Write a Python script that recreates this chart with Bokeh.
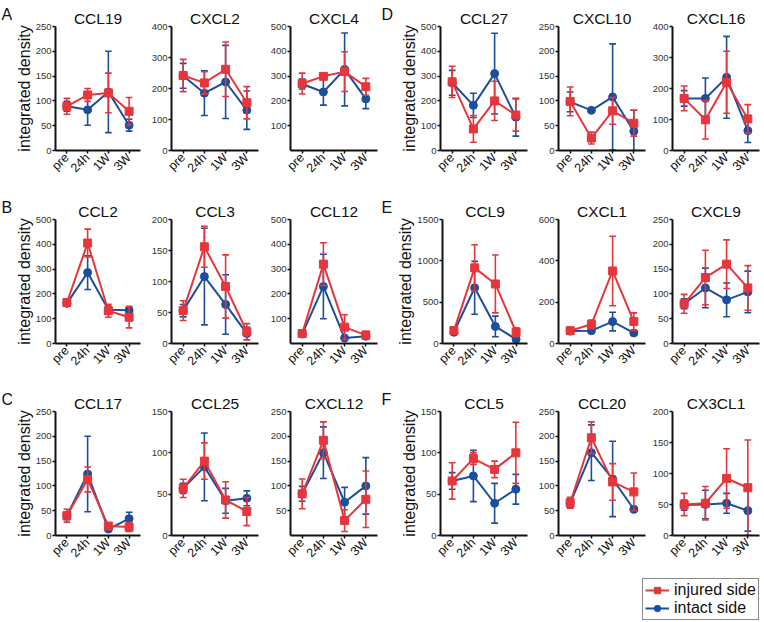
import math
from bokeh.plotting import figure
from bokeh.models import Range1d, FixedTicker, Legend, LegendItem, ColumnDataSource, Spacer
from bokeh.layouts import row, column
from bokeh.embed import file_html
from bokeh.resources import INLINE

TIME_POINTS = ["pre", "24h", "1W", "3W"]
X_IDX = [0, 1, 2, 3]

# ---- Group A ----
CCL19_max, CCL19_ticks = 250, [0, 50, 100, 150, 200, 250]
CCL19_injured, CCL19_injured_err = [89, 112, 116, 79], [16, 13, 40, 28]
CCL19_intact, CCL19_intact_err = [89, 82, 118, 51], [10, 31, 82, 12]

CXCL2_max, CXCL2_ticks = 400, [0, 100, 200, 300, 400]
CXCL2_injured, CXCL2_injured_err = [242, 218, 262, 154], [52, 36, 88, 52]
CXCL2_intact, CXCL2_intact_err = [241, 185, 221, 130], [40, 72, 118, 62]

CXCL4_max, CXCL4_ticks = 500, [100, 200, 300, 400, 500]
CXCL4_injured, CXCL4_injured_err = [270, 299, 318, 257], [42, 12, 80, 34]
CXCL4_intact, CXCL4_intact_err = [268, 236, 327, 208], [20, 53, 147, 39]

# ---- Group B ----
CCL2_max, CCL2_ticks = 500, [0, 100, 200, 300, 400, 500]
CCL2_injured, CCL2_injured_err = [165, 405, 132, 106], [15, 56, 26, 43]
CCL2_intact, CCL2_intact_err = [162, 286, 136, 134], [12, 68, 15, 15]

CCL3_max, CCL3_ticks = 200, [0, 50, 100, 150, 200]
CCL3_injured, CCL3_injured_err = [53, 156, 92, 19], [16, 33, 51, 13]
CCL3_intact, CCL3_intact_err = [53, 108, 63, 16], [10, 78, 48, 10]

CCL12_max, CCL12_ticks = 500, [100, 200, 300, 400, 500]
CCL12_injured, CCL12_injured_err = [40, 320, 66, 34], [8, 86, 50, 15]
CCL12_intact, CCL12_intact_err = [38, 230, 22, 29], [6, 130, 8, 12]

# ---- Group C ----
CCL17_max, CCL17_ticks = 250, [0, 50, 100, 150, 200, 250]
CCL17_injured, CCL17_injured_err = [40, 113, 19, 17], [13, 25, 4, 9]
CCL17_intact, CCL17_intact_err = [40, 124, 13, 34], [8, 76, 3, 13]

CCL25_max, CCL25_ticks = 150, [0, 50, 100, 150]
CCL25_injured, CCL25_injured_err = [57, 90, 43, 29], [11, 22, 22, 17]
CCL25_intact, CCL25_intact_err = [57, 83, 42, 45], [6, 41, 15, 9]

CXCL12_max, CXCL12_ticks = 250, [50, 100, 150, 200, 250]
CXCL12_injured, CXCL12_injured_err = [84, 192, 30, 73], [30, 37, 22, 57]
CXCL12_intact, CXCL12_intact_err = [84, 167, 67, 100], [15, 52, 30, 57]

# ---- Group D ----
CCL27_max, CCL27_ticks = 500, [0, 100, 200, 300, 400, 500]
CCL27_injured, CCL27_injured_err = [277, 87, 200, 143], [63, 54, 79, 65]
CCL27_intact, CCL27_intact_err = [273, 182, 310, 134], [50, 49, 163, 76]

CXCL10_max, CXCL10_ticks = 250, [0, 50, 100, 150, 200, 250]
CXCL10_injured, CXCL10_injured_err = [99, 25, 80, 55], [29, 12, 27, 26]
CXCL10_intact, CXCL10_intact_err = [98, 81, 108, 39], [20, 3, 107, 42]

CXCL16_max, CXCL16_ticks = 400, [0, 100, 200, 300, 400]
CXCL16_injured, CXCL16_injured_err = [168, 99, 220, 102], [40, 62, 100, 46]
CXCL16_intact, CXCL16_intact_err = [168, 168, 236, 64], [25, 66, 132, 38]

# ---- Group E ----
CCL9_max, CCL9_ticks = 1500, [0, 500, 1000, 1500]
CCL9_injured, CCL9_injured_err = [156, 915, 720, 136], [30, 280, 350, 55]
CCL9_intact, CCL9_intact_err = [136, 674, 206, 51], [20, 320, 125, 20]

CXCL1_max, CXCL1_ticks = 600, [0, 200, 400, 600]
CXCL1_injured, CXCL1_injured_err = [62, 93, 351, 106], [5, 21, 168, 42]
CXCL1_intact, CXCL1_intact_err = [60, 62, 106, 51], [5, 12, 45, 10]

CXCL9_max, CXCL9_ticks = 250, [0, 50, 100, 150, 200, 250]
CXCL9_injured, CXCL9_injured_err = [80, 133, 160, 112], [19, 55, 49, 45]
CXCL9_intact, CXCL9_intact_err = [80, 112, 88, 104], [10, 40, 34, 42]

# ---- Group F ----
CCL5_max, CCL5_ticks = 150, [0, 50, 100, 150]
CCL5_injured, CCL5_injured_err = [66, 93, 80, 100], [22, 7, 10, 37]
CCL5_intact, CCL5_intact_err = [66, 72, 39, 56], [10, 31, 24, 18]

CCL20_max, CCL20_ticks = 250, [0, 50, 100, 150, 200, 250]
CCL20_injured, CCL20_injured_err = [66, 197, 108, 88], [11, 32, 37, 38]
CCL20_intact, CCL20_intact_err = [65, 167, 114, 53], [8, 56, 76, 5]

CX3CL1_max, CX3CL1_ticks = 200, [0, 50, 100, 150, 200]
CX3CL1_injured, CX3CL1_injured_err = [50, 52, 92, 77], [18, 27, 48, 77]
CX3CL1_intact, CX3CL1_intact_err = [49, 50, 52, 40], [8, 23, 16, 33]

PANEL_LETTERS = ["A", "B", "C", "D", "E", "F"]
SERIES_LABELS = ["injured side", "intact side"]

RED = "#e5363c"
BLUE = "#1b4f9b"
FONT = "Liberation Sans"
FRAME_W, FRAME_H, TOP = 87, 128, 22
ROW_H = [193, 192, 192]
LEFTS = [41, 26, 27, 46, 26, 24]
RIGHTS = [5, 5, 3, 5, 3, 3]
LETTER_W = [12, 14]


def letter_fig(letter, h, w):
    p = figure(width=w, height=h, output_backend="svg", toolbar_location=None,
               x_axis_location=None, y_axis_location=None,
               min_border_left=0, min_border_right=0, min_border_top=0, min_border_bottom=0)
    p.outline_line_color = None
    p.grid.visible = False
    p.title.text = letter
    p.title.align = "left"
    p.title.offset = 1
    p.title.standoff = 7
    p.title.text_font = FONT
    p.title.text_font_size = "16px"
    p.title.text_font_style = "normal"
    p.title.text_color = "#111111"
    return p


def style_series(p, vals, errs, color, marker):
    lo = [max(0, v - e) for v, e in zip(vals, errs)]
    hi = [v + e for v, e in zip(vals, errs)]
    src = ColumnDataSource(dict(x=X_IDX, y=vals, lo=lo, hi=hi,
                                cl=[x - 0.16 for x in X_IDX], cr=[x + 0.16 for x in X_IDX]))
    p.segment(x0="x", y0="lo", x1="x", y1="hi", source=src, line_color=color, line_width=1.6)
    p.segment(x0="cl", y0="hi", x1="cr", y1="hi", source=src, line_color=color, line_width=1.6)
    p.segment(x0="cl", y0="lo", x1="cr", y1="lo", source=src, line_color=color, line_width=1.6)
    ln = p.line("x", "y", source=src, line_color=color, line_width=2)
    sc = p.scatter("x", "y", source=src, marker=marker, size=8, fill_color=color, line_color=color)
    return [ln, sc]


def make_panel(col, rix, title, ymax, yticks, inj, inj_err, ctl, ctl_err, ylabel=False):
    left, right = LEFTS[col], RIGHTS[col]
    bottom = ROW_H[rix] - TOP - FRAME_H
    p = figure(width=left + FRAME_W + right, height=ROW_H[rix],
               x_range=Range1d(-0.55, 3.55), y_range=Range1d(0, ymax),
               output_backend="svg", toolbar_location=None,
               min_border_left=left, min_border_right=right,
               min_border_top=TOP, min_border_bottom=bottom)
    p.outline_line_color = None
    p.grid.visible = False
    p.title.text = title
    p.title.align = "center"
    p.title.text_font = FONT
    p.title.text_font_size = "15.5px"
    p.title.text_font_style = "normal"
    p.title.text_color = "#111111"
    p.title.standoff = 0
    p.title.offset = 0

    for ax in (p.xaxis[0], p.yaxis[0]):
        ax.axis_line_width = 2
        ax.axis_line_color = "#111111"
        ax.major_tick_line_width = 1.5
        ax.major_tick_line_color = "#111111"
        ax.major_tick_out = 3
        ax.major_tick_in = 0
        ax.minor_tick_line_color = None
        ax.major_label_text_font = FONT

    xa = p.xaxis[0]
    xa.ticker = FixedTicker(ticks=X_IDX)
    xa.major_label_overrides = {i: t for i, t in zip(X_IDX, TIME_POINTS)}
    xa.major_label_orientation = math.pi / 4
    xa.major_label_text_font_size = "12.5px"
    xa.major_label_text_color = "#111111"
    xa.major_label_standoff = 2

    ya = p.yaxis[0]
    ya.ticker = FixedTicker(ticks=yticks)
    ya.major_label_text_font_size = "9.5px"
    ya.major_label_text_color = "#333333"
    ya.major_label_standoff = 1
    if ylabel:
        ya.axis_label = "integrated density"
        ya.axis_label_text_font = FONT
        ya.axis_label_text_font_size = "16px"
        ya.axis_label_text_font_style = "normal"
        ya.axis_label_text_color = "#111111"
        ya.axis_label_standoff = 0

    style_series(p, ctl, ctl_err, BLUE, "circle")
    style_series(p, inj, inj_err, RED, "square")
    return p


row1 = [
    make_panel(0, 0, "CCL19", CCL19_max, CCL19_ticks, CCL19_injured, CCL19_injured_err, CCL19_intact, CCL19_intact_err, ylabel=True),
    make_panel(1, 0, "CXCL2", CXCL2_max, CXCL2_ticks, CXCL2_injured, CXCL2_injured_err, CXCL2_intact, CXCL2_intact_err),
    make_panel(2, 0, "CXCL4", CXCL4_max, CXCL4_ticks, CXCL4_injured, CXCL4_injured_err, CXCL4_intact, CXCL4_intact_err),
    make_panel(3, 0, "CCL27", CCL27_max, CCL27_ticks, CCL27_injured, CCL27_injured_err, CCL27_intact, CCL27_intact_err, ylabel=True),
    make_panel(4, 0, "CXCL10", CXCL10_max, CXCL10_ticks, CXCL10_injured, CXCL10_injured_err, CXCL10_intact, CXCL10_intact_err),
    make_panel(5, 0, "CXCL16", CXCL16_max, CXCL16_ticks, CXCL16_injured, CXCL16_injured_err, CXCL16_intact, CXCL16_intact_err),
]
row2 = [
    make_panel(0, 1, "CCL2", CCL2_max, CCL2_ticks, CCL2_injured, CCL2_injured_err, CCL2_intact, CCL2_intact_err, ylabel=True),
    make_panel(1, 1, "CCL3", CCL3_max, CCL3_ticks, CCL3_injured, CCL3_injured_err, CCL3_intact, CCL3_intact_err),
    make_panel(2, 1, "CCL12", CCL12_max, CCL12_ticks, CCL12_injured, CCL12_injured_err, CCL12_intact, CCL12_intact_err),
    make_panel(3, 1, "CCL9", CCL9_max, CCL9_ticks, CCL9_injured, CCL9_injured_err, CCL9_intact, CCL9_intact_err, ylabel=True),
    make_panel(4, 1, "CXCL1", CXCL1_max, CXCL1_ticks, CXCL1_injured, CXCL1_injured_err, CXCL1_intact, CXCL1_intact_err),
    make_panel(5, 1, "CXCL9", CXCL9_max, CXCL9_ticks, CXCL9_injured, CXCL9_injured_err, CXCL9_intact, CXCL9_intact_err),
]
row3 = [
    make_panel(0, 2, "CCL17", CCL17_max, CCL17_ticks, CCL17_injured, CCL17_injured_err, CCL17_intact, CCL17_intact_err, ylabel=True),
    make_panel(1, 2, "CCL25", CCL25_max, CCL25_ticks, CCL25_injured, CCL25_injured_err, CCL25_intact, CCL25_intact_err),
    make_panel(2, 2, "CXCL12", CXCL12_max, CXCL12_ticks, CXCL12_injured, CXCL12_injured_err, CXCL12_intact, CXCL12_intact_err),
    make_panel(3, 2, "CCL5", CCL5_max, CCL5_ticks, CCL5_injured, CCL5_injured_err, CCL5_intact, CCL5_intact_err, ylabel=True),
    make_panel(4, 2, "CCL20", CCL20_max, CCL20_ticks, CCL20_injured, CCL20_injured_err, CCL20_intact, CCL20_intact_err),
    make_panel(5, 2, "CX3CL1", CX3CL1_max, CX3CL1_ticks, CX3CL1_injured, CX3CL1_injured_err, CX3CL1_intact, CX3CL1_intact_err),
]

# legend box: its own small plot whose frame is the legend area (series drawn outside its range)
LEG_W, LEG_H = 121, 44
leg_fig = figure(width=LEG_W, height=LEG_H, output_backend="svg", toolbar_location=None,
                 x_axis_location=None, y_axis_location=None,
                 x_range=Range1d(-0.55, 3.55), y_range=Range1d(-2, -1),
                 min_border_left=0, min_border_right=0, min_border_top=0, min_border_bottom=0)
leg_fig.outline_line_color = None
leg_fig.grid.visible = False
r_inj = style_series(leg_fig, CX3CL1_injured, CX3CL1_injured_err, RED, "square")
r_int = style_series(leg_fig, CX3CL1_intact, CX3CL1_intact_err, BLUE, "circle")
legend = Legend(items=[LegendItem(label=SERIES_LABELS[0], renderers=r_inj),
                       LegendItem(label=SERIES_LABELS[1], renderers=r_int)],
                location="top_left", orientation="vertical",
                label_text_font=FONT, label_text_font_size="16px", label_text_color="#111111",
                glyph_width=24, glyph_height=16, label_height=16, label_standoff=5,
                padding=2, spacing=0, margin=1,
                border_line_color="#111111", border_line_width=1.2, background_fill_alpha=1)
leg_fig.add_layout(legend, "center")

rows = []
for rix, prow in enumerate((row1, row2, row3)):
    kids = [letter_fig(PANEL_LETTERS[rix], ROW_H[rix], LETTER_W[0])]
    kids += prow[:3]
    kids += [letter_fig(PANEL_LETTERS[rix + 3], ROW_H[rix], LETTER_W[1])]
    kids += prow[3:]
    rows.append(row(*kids))

rows.append(row(Spacer(width=641, height=LEG_H), leg_fig))
layout = column(*rows)

with open("out.html", "w") as f:
    f.write(file_html(layout, INLINE))
